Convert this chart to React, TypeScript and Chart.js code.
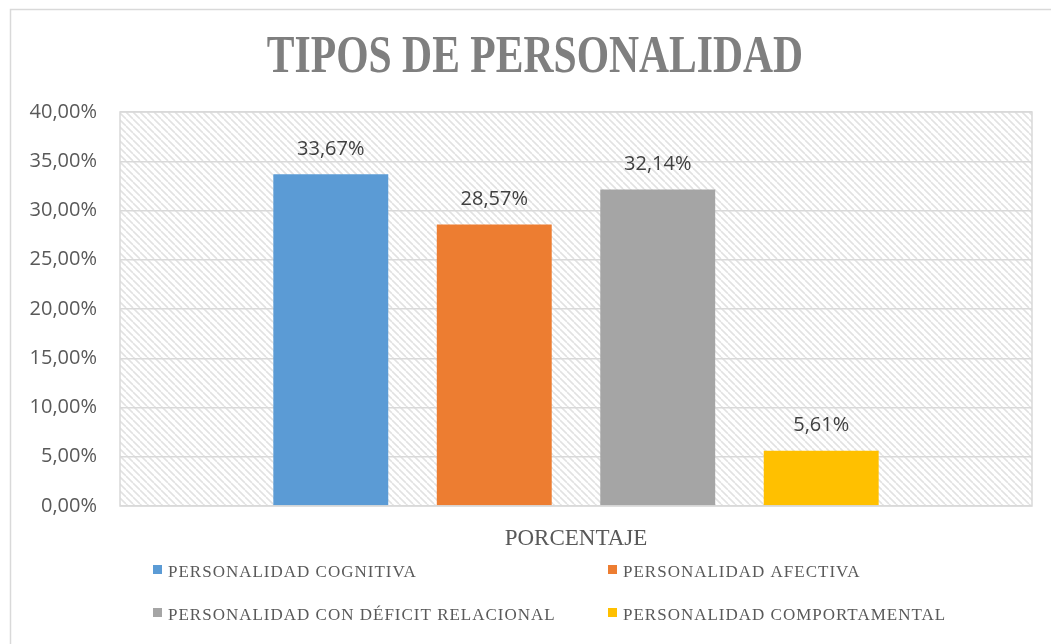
import React, { useEffect, useRef } from 'react';
import { Chart, registerables } from 'chart.js';

Chart.register(...registerables);

const chartTitle = 'TIPOS DE PERSONALIDAD';
const categories = ['PORCENTAJE'];
const seriesNames = [
  'PERSONALIDAD COGNITIVA',
  'PERSONALIDAD AFECTIVA',
  'PERSONALIDAD CON DÉFICIT RELACIONAL',
  'PERSONALIDAD COMPORTAMENTAL',
];
const seriesValues = [33.67, 28.57, 32.14, 5.61];
const seriesColors = ['#5B9BD5', '#ED7D31', '#A5A5A5', '#FFC000'];
const yMin = 0;
const yMax = 40;
const yStep = 5;

const fmtPct = (v: number) => v.toFixed(2).replace('.', ',') + '%';

function makeHatch(ctx: CanvasRenderingContext2D): CanvasPattern | string {
  const s = 7;
  const c = document.createElement('canvas');
  c.width = s;
  c.height = s;
  const g = c.getContext('2d');
  if (!g) return '#f2f2f2';
  g.fillStyle = '#ffffff';
  g.fillRect(0, 0, s, s);
  g.strokeStyle = '#e2e2e2';
  g.lineWidth = 1.6;
  for (const k of [-s, 0, s]) {
    g.beginPath();
    g.moveTo(k, 0);
    g.lineTo(k + s, s);
    g.stroke();
  }
  return ctx.createPattern(c, 'repeat') || '#f2f2f2';
}

const decorPlugin = {
  id: 'decor',
  beforeDraw(chart: any) {
    const { ctx, chartArea, width, height } = chart;
    ctx.save();
    ctx.fillStyle = '#ffffff';
    ctx.fillRect(0, 0, width, height);
    // outer border
    ctx.strokeStyle = '#d9d9d9';
    ctx.lineWidth = 1.5;
    ctx.beginPath();
    ctx.moveTo(10.5, height);
    ctx.lineTo(10.5, 9.5);
    ctx.lineTo(width, 9.5);
    ctx.stroke();
    // hatch background
    ctx.fillStyle = makeHatch(ctx);
    ctx.fillRect(chartArea.left, chartArea.top, chartArea.right - chartArea.left, chartArea.bottom - chartArea.top);
    // title
    ctx.fillStyle = '#7f7f7f';
    ctx.font = 'bold 52px "Liberation Serif", "Times New Roman", serif';
    ctx.textAlign = 'center';
    ctx.textBaseline = 'alphabetic';
    ctx.translate(535, 72);
    ctx.scale(0.8, 1);
    ctx.fillText(chartTitle, 0, 0);
    ctx.restore();

    // legend
    ctx.save();
    const cols = [153, 608];
    const rows = [577, 620];
    ctx.font = '17px "Liberation Serif", "Times New Roman", serif';
    (ctx as any).letterSpacing = '1px';
    ctx.textAlign = 'left';
    ctx.textBaseline = 'alphabetic';
    chart.data.datasets.forEach((ds: any, i: number) => {
      const cx = cols[i % 2];
      const by = rows[Math.floor(i / 2)];
      ctx.fillStyle = ds.backgroundColor;
      ctx.fillRect(cx, by - 12, 9, 9);
      ctx.fillStyle = '#595959';
      ctx.fillText(ds.label, cx + 15, by);
    });
    ctx.restore();
  },
  afterDatasetsDraw(chart: any) {
    const { ctx, chartArea } = chart;
    ctx.save();
    ctx.font = '20px "Open Sans", sans-serif';
    ctx.fillStyle = '#404040';
    ctx.textAlign = 'center';
    ctx.textBaseline = 'middle';
    chart.data.datasets.forEach((ds: any, i: number) => {
      const meta = chart.getDatasetMeta(i);
      meta.data.forEach((bar: any, j: number) => {
        ctx.fillText(fmtPct(ds.data[j]), bar.x, bar.y - 25);
      });
    });
    ctx.strokeStyle = '#d9d9d9';
    ctx.lineWidth = 1.5;
    ctx.strokeRect(chartArea.left, chartArea.top, chartArea.right - chartArea.left, chartArea.bottom - chartArea.top);
    ctx.restore();
  },
};

export default function App() {
  const ref = useRef<HTMLCanvasElement | null>(null);
  useEffect(() => {
    if (!ref.current) return;
    const chart = new Chart(ref.current, {
      type: 'bar',
      data: {
        labels: categories,
        datasets: seriesNames.map((name, i) => ({
          label: name,
          data: [seriesValues[i]],
          backgroundColor: seriesColors[i],
          borderWidth: 0,
          categoryPercentage: 0.717,
          barPercentage: 0.703,
        })),
      },
      options: {
        animation: false,
        responsive: false,
        maintainAspectRatio: false,
        layout: { padding: { top: 112, right: 19, bottom: 0, left: 0 } },
        plugins: {
          legend: { display: false },
          title: { display: false },
          tooltip: { enabled: false },
        },
        scales: {
          x: {
            grid: { display: false },
            border: { display: false },
            ticks: {
              padding: 11,
              color: '#595959',
              font: { family: '"Liberation Serif", "Times New Roman", serif', size: 23 },
            },
            afterFit: (s: any) => {
              s.height = 138;
            },
          },
          y: {
            min: yMin,
            max: yMax,
            grid: { color: '#d9d9d9', lineWidth: 1.5, drawTicks: false },
            border: { display: false },
            ticks: {
              stepSize: yStep,
              padding: 23,
              color: '#595959',
              font: { family: '"Open Sans", sans-serif', size: 20 },
              callback: (v: any) => fmtPct(Number(v)),
            },
            afterFit: (s: any) => {
              s.width = 120;
            },
          },
        },
      },
      plugins: [decorPlugin],
    });
    return () => chart.destroy();
  }, []);
  return (
    <div style={{ position: 'fixed', left: 0, top: 0, width: 1051, height: 644 }}>
      <canvas ref={ref} width={1051} height={644} style={{ display: 'block', width: 1051, height: 644 }} />
    </div>
  );
}
